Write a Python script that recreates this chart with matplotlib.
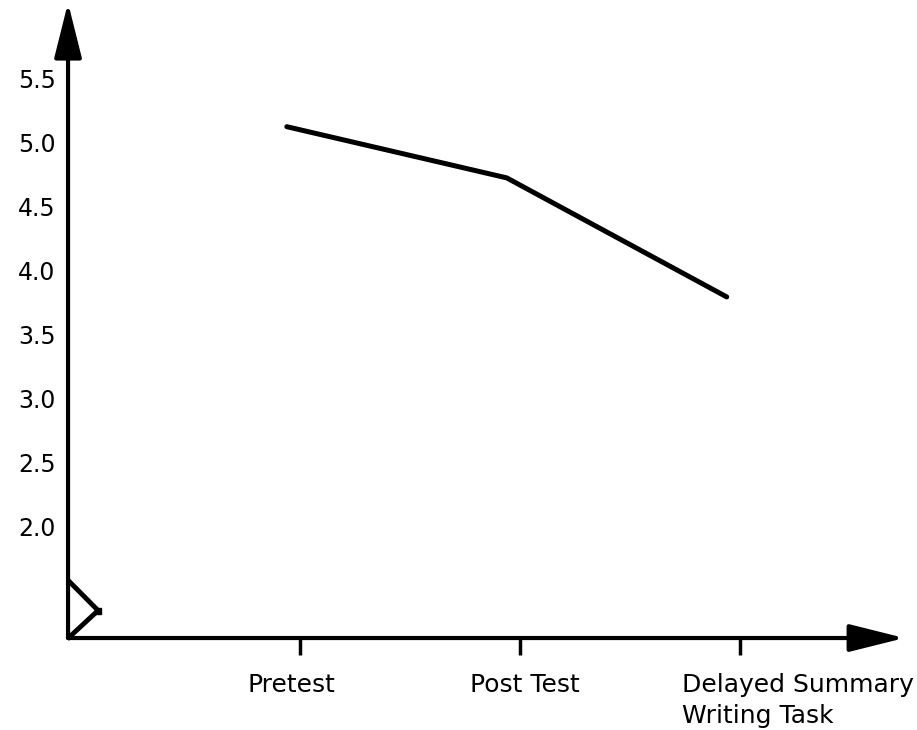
import numpy as np
import matplotlib
matplotlib.use("Agg")
import matplotlib.pyplot as plt

# data
categories = ["Pretest", "Post Test", "Delayed Summary\nWriting Task"]
scores = [5.12, 4.72, 3.79]
ytick_values = [2.0, 2.5, 3.0, 3.5, 4.0, 4.5, 5.0, 5.5]
ytick_labels = ["2.0", "2.5", "3.0", "3.5", "4.0", "4.5", "5.0", "5.5"]

# axis break marker (zig-zag at the bottom of the y axis)
break_x = [-0.045, 0.082, -0.05]
break_y = [1.56, 1.34, 1.13]

x_pos = np.arange(1, len(categories) + 1)
line_shift = -0.06                       # hand-drawn line sits a bit left of the ticks
label_shift = [-0.04, 0.02, 0.265]       # label centres relative to ticks

plt.rcParams["font.family"] = ["DejaVu Sans"]

fig = plt.figure(figsize=(9.17, 7.30), dpi=100)
ax = fig.add_axes([0.0742, 0.126, 0.904, 0.860])

ax.set_xlim(-0.0545, 3.714)
ax.set_ylim(1.125, 6.03)

# the series
ax.plot(x_pos + line_shift, scores, color="black", lw=3.6,
        solid_capstyle="round", solid_joinstyle="round")

# axes drawn as arrows
for sp in ax.spines.values():
    sp.set_visible(False)
arrow = dict(arrowstyle="-|>,head_length=3.4,head_width=0.85", lw=3,
             color="black", mutation_scale=10, shrinkA=0, shrinkB=0)
ax.annotate("", xy=(0, 1.012), xytext=(0, 0), xycoords="axes fraction",
            arrowprops=arrow, annotation_clip=False)
ax.annotate("", xy=(1.009, 0), xytext=(0, 0), xycoords="axes fraction",
            arrowprops=arrow, annotation_clip=False)

# axis break
ax.plot(break_x, break_y, color="black", lw=3.5, solid_joinstyle="miter",
        clip_on=False)
ax.plot(break_x[1], break_y[1], marker="s", ms=5, color="black")

# y ticks
ax.set_yticks(ytick_values, labels=ytick_labels)
ax.tick_params(axis="y", length=0, pad=9, labelsize=17)

# x ticks + labels
ax.set_xticks(x_pos, labels=[""] * len(categories))
ax.tick_params(axis="x", direction="out", length=12, width=2.5)
trans = ax.get_xaxis_transform()
for xp, lab, off in zip(x_pos, categories, label_shift):
    ax.text(xp + off, -0.056, lab, transform=trans, ha="center", va="top",
            ma="left", fontsize=18, linespacing=1.35)

fig.savefig("out.png", dpi=100)
